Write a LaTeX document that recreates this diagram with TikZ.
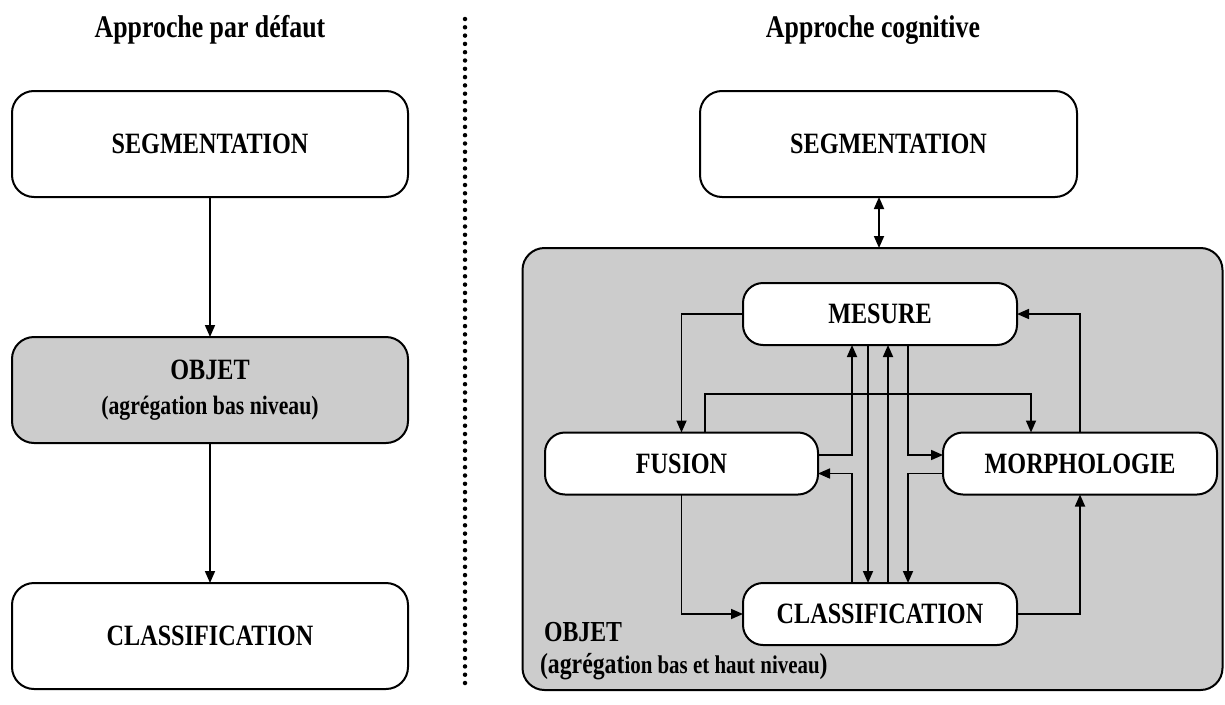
\documentclass[tikz,border=0pt]{standalone}
\usepackage{fontspec}
\setmainfont[FakeStretch=0.82]{Liberation Serif}
\usetikzlibrary{arrows.meta}
\definecolor{boxgray}{HTML}{CCCCCC}
\begin{document}
\begin{tikzpicture}[x=1pt,y=-1pt,
  every node/.style={inner sep=0pt,outer sep=0pt},
  bigbox/.style={draw,line width=2pt,rounded corners=22pt,minimum width=396pt,minimum height=106pt,align=center,font=\bfseries\fontsize{29.5}{31}\selectfont},
  smallbox/.style={draw,fill=white,line width=2pt,rounded corners=20pt,minimum width=274pt,minimum height=62pt,align=center,font=\bfseries\fontsize{29.5}{31}\selectfont},
  container/.style={draw,fill=boxgray,line width=2pt,rounded corners=22pt},
  title/.style={font=\bfseries\fontsize{31.5}{33}\selectfont},
  arr/.style={line width=1.7pt,-{Triangle[length=12pt,width=10pt]}},
  darr/.style={line width=1.7pt,{Triangle[length=12pt,width=10pt]}-{Triangle[length=12pt,width=10pt]}},
  sep/.style={line width=4.5pt,line cap=round,dash pattern=on 0pt off 8.3pt}
]
\useasboundingbox (0,0) rectangle (1225,704);

% titles
\node[title] (t1) at (210,30) {Approche par défaut};
\node[title] (t2) at (873,30) {Approche cognitive};

% separator
\draw[sep] (465,19) -- (465,690);

% left column
\node[bigbox] (segL) at (210,144) {SEGMENTATION};
\node[bigbox,fill=boxgray] (objL) at (210,390) {OBJET\\[4pt]{\fontsize{26.5}{28}\selectfont (agrégation bas niveau)}};
\node[bigbox] (clsL) at (210,636) {CLASSIFICATION};
\draw[arr] (segL.south) -- (objL.north);
\draw[arr] (objL.south) -- (clsL.north);

% right column
\node[bigbox,minimum width=377pt] (segR) at (888.5,144) {SEGMENTATION};
\node[container,minimum width=700pt,minimum height=442pt] (obj) at (872.5,469) {};
\node[anchor=west,font=\bfseries\fontsize{29}{31}\selectfont] (lab1) at (544,632) {OBJET};
\node[anchor=west,font=\bfseries\fontsize{29}{31}\selectfont] (lab2) at (540,667) {(agrégat{\fontsize{25.5}{27}\selectfont ion bas et haut niveau})};

\coordinate (d1) at ([xshift=-9.5pt]segR.south);
\draw[darr] (d1) -- (d1 |- obj.north);

\node[smallbox] (mes) at (880,314) {MESURE};
\node[smallbox,minimum width=273pt] (fus) at (681.5,463.5) {FUSION};
\node[smallbox] (mor) at (1080,463.5) {MORPHOLOGIE};
\node[smallbox] (cls) at (880,614) {CLASSIFICATION};

\draw[arr] (mes.west) -| (fus.north);
\draw[arr] ([xshift=23.5pt]fus.north) -- ++(0,-38.5) -| ([xshift=-49pt]mor.north);
\draw[arr] (mor.north) |- (mes.east);
\draw[arr] ([yshift=8.5pt]fus.east) -| ([xshift=-28pt]mes.south);
\draw[arr] ([xshift=-12pt]mes.south) -- ([xshift=-12pt]cls.north);
\draw[arr] ([xshift=8pt]cls.north) -- ([xshift=8pt]mes.south);
\draw[arr] ([xshift=28pt]mes.south) |- ([yshift=8.5pt]mor.west);
\draw[arr] ([yshift=-10pt]mor.west) -| ([xshift=28pt]cls.north);
\draw[arr] ([xshift=-28pt]cls.north) |- ([yshift=-10pt]fus.east);
\draw[arr] (fus.south) |- (cls.west);
\draw[arr] (cls.east) -| (mor.south);
\end{tikzpicture}
\end{document}
